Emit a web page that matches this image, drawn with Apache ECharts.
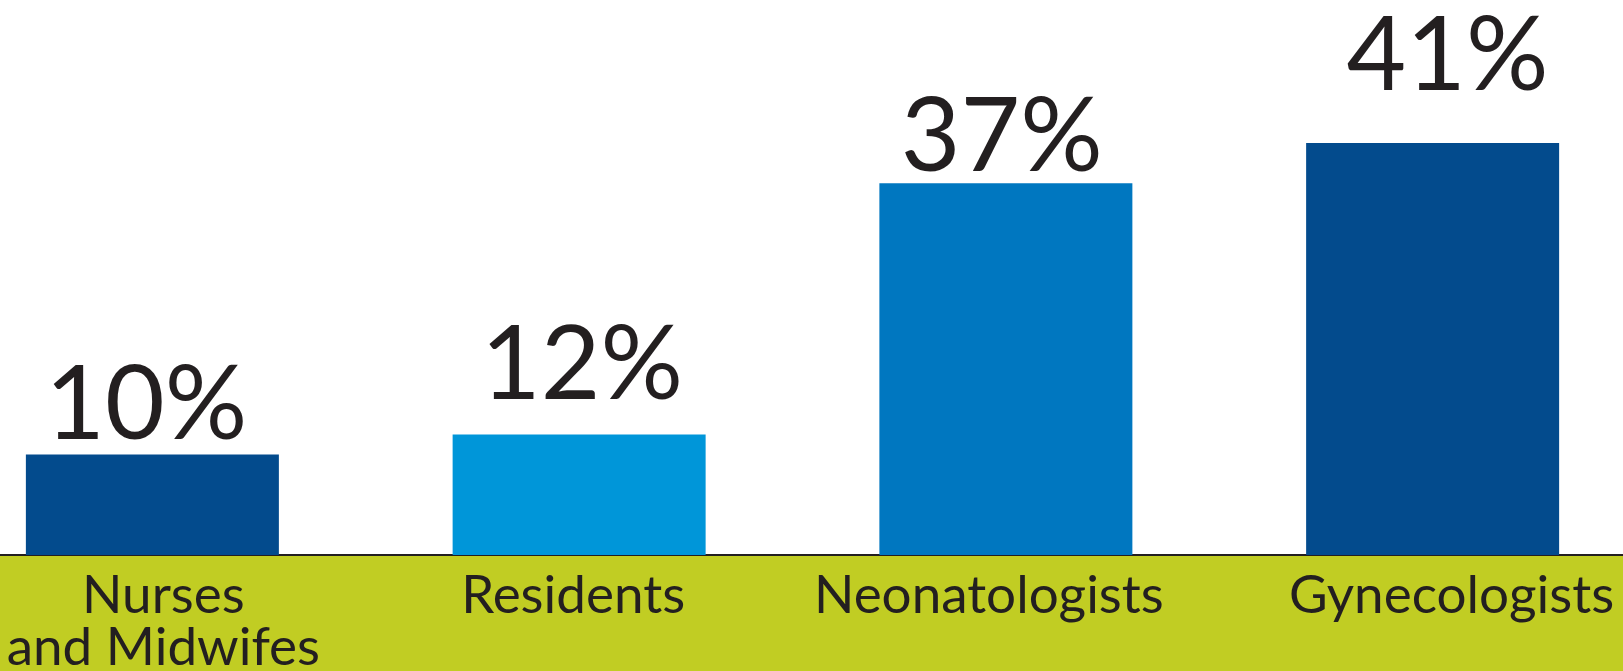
<!DOCTYPE html>
<html>
<head>
<meta charset="utf-8">
<script src="https://cdn.jsdelivr.net/npm/echarts@6/dist/echarts.min.js"></script>
<style>
html,body{margin:0;padding:0;background:#fff;}
#chart{width:1623px;height:671px;}
</style>
</head>
<body>
<div id="chart"></div>
<script>
// ---- data ----
const categories = ['Nurses\nand Midwifes', 'Residents', 'Neonatologists', 'Gynecologists'];
const values = [10, 12, 37, 41];

// ---- styles (not data) ----
const barColors = ['#034B8D', '#0096D9', '#0077C0', '#034B8D'];
const labelNudge = [[-6, 3], [3, -17], [-4, 6], [15, -35]];
const catShift = [11, -6, -17, 19];
const textColor = '#231F20';
const font = 'Lato';

const chart = echarts.init(document.getElementById('chart'), null, {renderer: 'canvas'});
chart.setOption({
  animation: false,
  grid: {left: -61, right: -23, top: 52.5, bottom: 116, containLabel: false, outerBoundsMode: 'none'},
  xAxis: {
    type: 'category',
    data: categories.map((c, i) => ({
      value: c,
      textStyle: {padding: catShift[i] >= 0 ? [0, 0, 0, 2 * catShift[i]] : [0, -2 * catShift[i], 0, 0]}
    })),
    axisTick: {show: false},
    axisLine: {show: true, lineStyle: {color: textColor, width: 2}},
    axisLabel: {
      color: textColor, fontFamily: font, fontSize: 53, lineHeight: 52,
      margin: 15, interval: 0, align: 'center', hideOverlap: false
    }
  },
  yAxis: {type: 'value', min: 0, max: 50, show: false, splitLine: {show: false}},
  graphic: [{
    type: 'rect', left: 0, bottom: 0, z: -10,
    shape: {width: 1623, height: 116},
    style: {fill: '#C1CD23'}
  }],
  series: [{
    type: 'bar',
    barWidth: 253,
    data: values.map((v, i) => ({
      value: v,
      itemStyle: {color: barColors[i]},
      label: {offset: labelNudge[i]}
    })),
    label: {
      show: true, position: 'top', distance: 0,
      formatter: '{c}%', color: textColor, fontFamily: font, fontSize: 103
    }
  }]
});
</script>
</body>
</html>
